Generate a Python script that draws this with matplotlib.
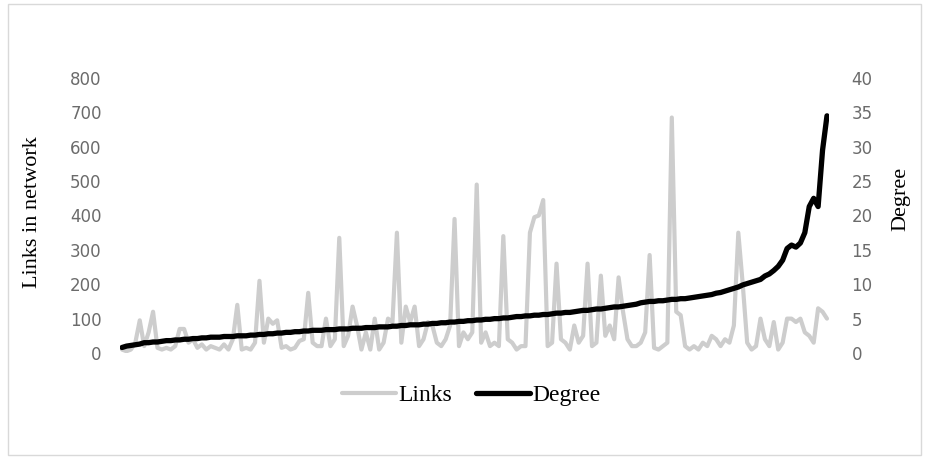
import matplotlib
matplotlib.use("Agg")
import matplotlib.pyplot as plt
from matplotlib.patches import Rectangle

links = [10, 5, 10, 30, 95, 20, 60, 120, 15, 10,
         15, 10, 20, 70, 70, 30, 40, 15, 25, 10,
         20, 15, 10, 25, 10, 40, 140, 10, 15, 10,
         30, 210, 30, 100, 85, 95, 15, 20, 10, 15,
         35, 40, 175, 30, 20, 20, 100, 20, 40, 335,
         20, 50, 135, 80, 10, 60, 10, 100, 10, 30,
         100, 90, 350, 30, 135, 90, 135, 20, 40, 90,
         80, 30, 20, 40, 80, 390, 20, 60, 40, 60,
         490, 30, 60, 20, 30, 20, 340, 40, 30, 10,
         20, 20, 350, 395, 400, 445, 20, 30, 260, 40,
         30, 10, 80, 30, 50, 260, 20, 30, 225, 50,
         80, 40, 220, 120, 40, 20, 20, 30, 60, 285,
         15, 10, 20, 30, 685, 120, 110, 20, 10, 20,
         10, 30, 20, 50, 40, 20, 40, 30, 80, 350,
         200, 30, 10, 20, 100, 40, 20, 90, 10, 30,
         100, 100, 90, 100, 60, 50, 30, 130, 120, 100]

degree = [0.8, 1.0, 1.1, 1.2, 1.3, 1.5, 1.5, 1.6, 1.6, 1.7,
          1.8, 1.8, 1.9, 1.9, 2.0, 2.0, 2.1, 2.1, 2.2, 2.2,
          2.3, 2.3, 2.3, 2.4, 2.4, 2.4, 2.5, 2.5, 2.5, 2.6,
          2.6, 2.7, 2.7, 2.8, 2.8, 2.9, 2.9, 3.0, 3.0, 3.1,
          3.1, 3.2, 3.2, 3.3, 3.3, 3.3, 3.4, 3.4, 3.4, 3.5,
          3.5, 3.5, 3.6, 3.6, 3.6, 3.7, 3.7, 3.7, 3.8, 3.8,
          3.8, 3.9, 3.9, 4.0, 4.0, 4.1, 4.1, 4.1, 4.2, 4.2,
          4.3, 4.3, 4.4, 4.4, 4.5, 4.5, 4.6, 4.6, 4.7, 4.7,
          4.8, 4.8, 4.9, 4.9, 5.0, 5.0, 5.1, 5.1, 5.2, 5.3,
          5.3, 5.4, 5.4, 5.5, 5.5, 5.6, 5.6, 5.7, 5.8, 5.8,
          5.9, 5.9, 6.0, 6.1, 6.2, 6.2, 6.3, 6.4, 6.4, 6.5,
          6.6, 6.7, 6.7, 6.8, 6.9, 7.0, 7.1, 7.3, 7.4, 7.5,
          7.5, 7.6, 7.6, 7.7, 7.8, 7.8, 7.9, 7.9, 8.0, 8.1,
          8.2, 8.3, 8.4, 8.5, 8.7, 8.8, 9.0, 9.2, 9.4, 9.6,
          9.9, 10.1, 10.3, 10.5, 10.7, 11.2, 11.5, 12.0, 12.6, 13.5,
          15.2, 15.7, 15.4, 16.0, 17.5, 21.3, 22.5, 21.3, 29.5, 34.5]

left_ticks = [0, 100, 200, 300, 400, 500, 600, 700, 800]
right_ticks = [0, 5, 10, 15, 20, 25, 30, 35, 40]

W, H = 929, 459
fig = plt.figure(figsize=(W / 100, H / 100), dpi=100)
fig.patches.append(Rectangle((8 / W, 4 / H), 913 / W, 451 / H, transform=fig.transFigure,
                             fill=False, edgecolor="#d9d9d9", linewidth=1.0))

ax = fig.add_axes([119.8 / W, (H - 353) / H, 709.4 / W, 275 / H])
ax2 = ax.twinx()
x = list(range(len(links)))
l1, = ax.plot(x, links, color="#cdcdcd", linewidth=3.0, solid_joinstyle="round",
              solid_capstyle="round", label="Links", zorder=2)
l2, = ax2.plot(x, degree, color="black", linewidth=3.8, solid_joinstyle="round",
               solid_capstyle="round", label="Degree", zorder=3)

ax.set_xlim(-0.5, len(links) - 0.5)
ax.set_ylim(0, 800)
ax2.set_ylim(0, 40)
ax.set_yticks(left_ticks)
ax2.set_yticks(right_ticks)
ax.set_xticks([])
for a in (ax, ax2):
    for s in a.spines.values():
        s.set_visible(False)
    a.tick_params(axis="y", length=0, labelsize=12, labelcolor="#6b6b6b")
    a.patch.set_visible(False)
ax.tick_params(axis="y", pad=13)
ax2.tick_params(axis="y", pad=16)

ax.set_ylabel("Links in network", family="Liberation Serif", fontsize=16)
ax.yaxis.set_label_coords(-0.1097, 0.513)
ax2.set_ylabel("Degree", family="Liberation Serif", fontsize=16)
ax2.yaxis.set_label_coords(1.087, 0.562)

fig.legend(handles=[l1, l2], loc="center", bbox_to_anchor=(0.507, 0.139), ncol=2,
           frameon=False, prop={"family": "Liberation Serif", "size": 17},
           handlelength=2.3, handletextpad=0.1, columnspacing=1.0)

fig.savefig("out.png", dpi=100)
